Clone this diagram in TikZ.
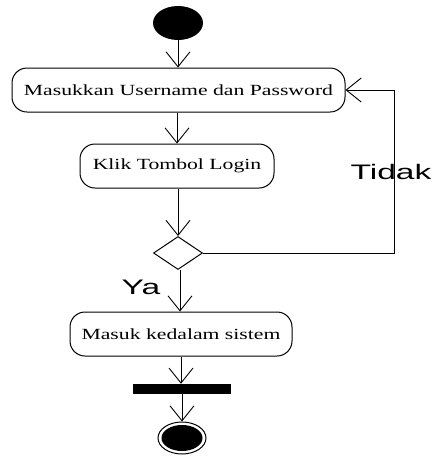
\documentclass[tikz,border=0pt]{standalone}
\usepackage{fontspec}
\setmainfont{Liberation Serif}
\newfontfamily\labelfont{Liberation Sans}
\usetikzlibrary{arrows.meta,shapes.geometric}
\newcommand{\wideact}[1]{\scalebox{1.4}[1]{\fontsize{15.5}{18}\selectfont #1}}
\newcommand{\widelbl}[1]{\scalebox{1.6}[1]{\labelfont\fontsize{21}{24}\selectfont #1}}
\tikzset{
  activity/.style={draw, line width=1pt, rounded corners=15pt, inner sep=0pt, fill=white},
  flow/.style={line width=0.9pt, -{Straight Barb[length=15pt,width=24pt,line width=0.9pt]}},
  plain/.style={line width=0.9pt},
  guard/.style={inner sep=0pt}
}
\begin{document}
\begin{tikzpicture}[x=1pt,y=-1pt]
  \useasboundingbox (0,0) rectangle (432,456);
  % initial and final states
  \node[ellipse, fill=black, minimum width=50pt, minimum height=34pt, inner sep=0pt] (start) at (178,23) {};
  \node[ellipse, draw, line width=1pt, minimum width=48pt, minimum height=32pt, inner sep=0pt] (stop) at (182,438) {};
  \node[ellipse, fill=black, minimum width=41pt, minimum height=26pt, inner sep=0pt] (stopdot) at (182,438) {};
  % activities
  \node[activity, minimum width=333pt, minimum height=44pt] (input) at (178.5,90) {\wideact{Masukkan Username dan Password}};
  \node[activity, minimum width=194pt, minimum height=44pt] (klik) at (177,166) {\wideact{Klik Tombol Login}};
  \node[activity, minimum width=222pt, minimum height=44pt] (masuk) at (181,334) {\wideact{Masuk kedalam sistem}};
  % decision and synchronisation bar
  \node[diamond, draw, line width=1pt, minimum width=49pt, minimum height=33pt, inner sep=0pt, aspect=1.5] (cek) at (178,253) {};
  \node[fill=black, minimum width=98pt, minimum height=10pt, inner sep=0pt] (bar) at (182,389) {};
  % corner of the loop back
  \coordinate (loopA) at (394,253);
  \coordinate (loopB) at (394,90);
  % flows
  \draw[flow] (start.south) -- (input.north -| start.south);
  \draw[flow] (input.south -| klik.north) -- (klik.north);
  \draw[flow] (klik.south -| cek.north) -- (cek.north);
  \draw[plain] (cek.east) -- (loopA) -- (loopB);
  \draw[flow] (loopB) -- (input.east);
  \draw[flow] (cek.south -| 180,0) -- (masuk.north -| 180,0);
  \draw[flow] (masuk.south) -- (bar.north -| masuk.south);
  \draw[flow] (bar.south) -- (stop.north);
  % guards
  \node[guard] (tidak) at (391,172) {\widelbl{Tidak}};
  \node[guard] (ya) at (141,287) {\widelbl{Ya}};
\end{tikzpicture}
\end{document}
